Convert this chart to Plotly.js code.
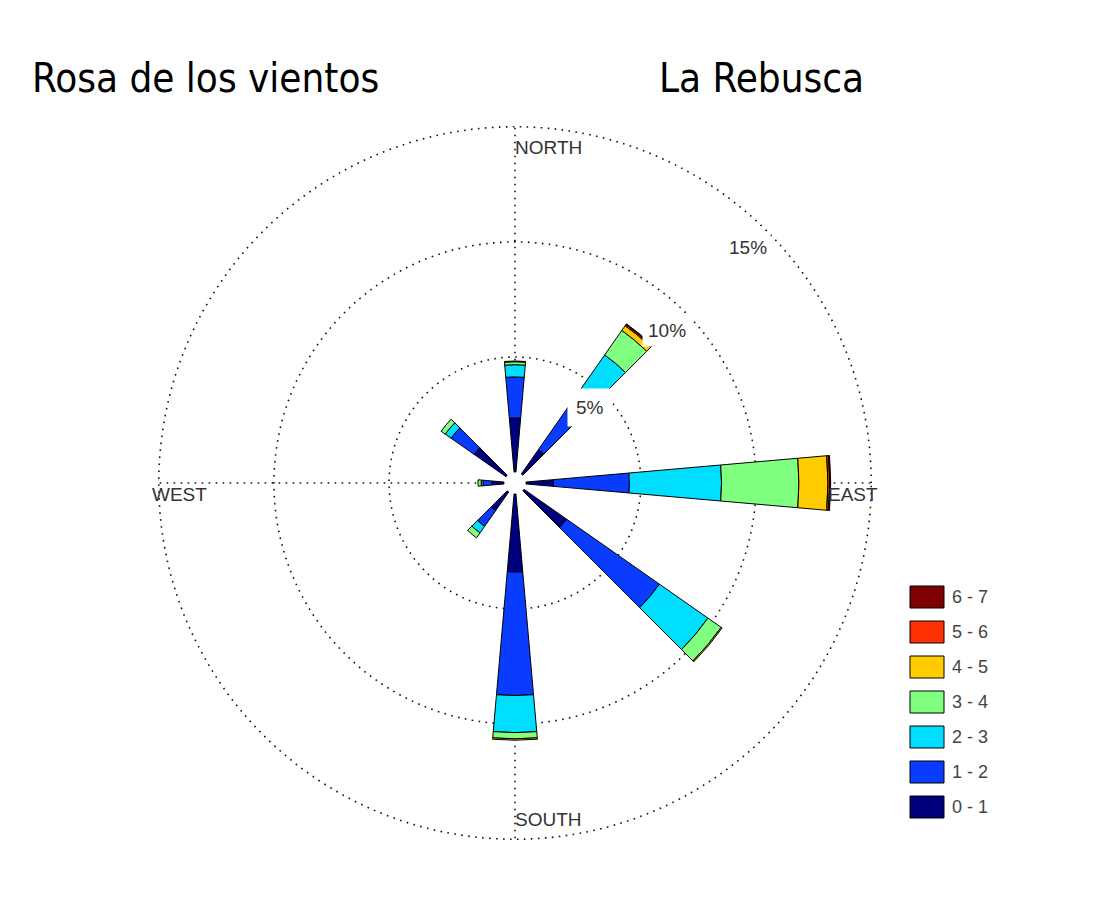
<!DOCTYPE html>
<html>
<head>
<meta charset="utf-8">
<script src="https://cdn.plot.ly/plotly-3.0.1.min.js"></script>
<style>html,body{margin:0;padding:0;background:#fff;}#chart{width:1096px;height:897px;}</style>
</head>
<body>
<div id="chart"></div>
<script>
// ---- data ----
const directions = ['N', 'NE', 'E', 'SE', 'S', 'SW', 'W', 'NW'];
const dirAngles  = [0, 40, 90, 130, 180, 220, 270, 310];
const speedBins  = ['0 - 1', '1 - 2', '2 - 3', '3 - 4', '4 - 5', '5 - 6', '6 - 7'];
const binColors  = ['#00007F', '#0A3CFF', '#00DEFF', '#80FF80', '#FFCC00', '#FF3000', '#7F0000'];
const freq_0_1 = [2.36, 1.31, 1.20, 2.27, 3.40, 1.00, 0.53, 1.70];
const freq_1_2 = [1.78, 2.79, 3.30, 4.92, 5.36, 0.83, 0.39, 1.22];
const freq_2_3 = [0.53, 2.22, 4.00, 2.57, 1.61, 0.35, 0.08, 0.31];
const freq_3_4 = [0.13, 1.30, 3.36, 0.70, 0.27, 0.26, 0.14, 0.22];
const freq_4_5 = [0.03, 0.25, 1.26, 0.05, 0.06, 0.00, 0.00, 0.00];
const freq_5_6 = [0.00, 0.06, 0.08, 0.00, 0.00, 0.00, 0.00, 0.00];
const freq_6_7 = [0.00, 0.04, 0.04, 0.00, 0.00, 0.00, 0.00, 0.00];
const ringValues = [5, 10, 15];
const ringLabels = ['5%', '10%', '15%'];
const compassLabels = ['NORTH', 'EAST', 'SOUTH', 'WEST'];
const titleLeft = 'Rosa de los vientos';
const titleRight = 'La Rebusca';

const allFreq = [freq_0_1, freq_1_2, freq_2_3, freq_3_4, freq_4_5, freq_5_6, freq_6_7];

// ---- layout helpers ----
const W = 1096, H = 897;
const px = x => x / W;
const py = y => 1 - y / H;
const CX = 515, CY = 483, R = 359;
const rMax = 15.12;

const traces = allFreq.map((vals, i) => ({
  type: 'barpolar',
  name: speedBins[i],
  r: vals,
  theta: dirAngles,
  width: 10,
  marker: { color: binColors[i], line: { color: '#000', width: 1 } },
  showlegend: false,
  hoverinfo: 'skip'
}));

const annotations = [];
const textFont = { family: 'Liberation Sans, Arial, sans-serif', size: 19, color: '#333' };
const titleFont = { family: 'DejaVu Sans Condensed, Liberation Sans, sans-serif', size: 40, color: '#000' };
// titles
annotations.push({ text: titleLeft, x: px(30), y: py(78), xref: 'paper', yref: 'paper', xanchor: 'left', yanchor: 'middle', showarrow: false, font: titleFont });
annotations.push({ text: titleRight, x: px(657), y: py(78), xref: 'paper', yref: 'paper', xanchor: 'left', yanchor: 'middle', showarrow: false, font: titleFont });
// compass labels
annotations.push({ text: compassLabels[0], x: px(513), y: py(147), xref: 'paper', yref: 'paper', xanchor: 'left', yanchor: 'middle', showarrow: false, font: textFont });
annotations.push({ text: compassLabels[1], x: px(880), y: py(494), xref: 'paper', yref: 'paper', xanchor: 'right', yanchor: 'middle', showarrow: false, font: textFont });
annotations.push({ text: compassLabels[2], x: px(513), y: py(819), xref: 'paper', yref: 'paper', xanchor: 'left', yanchor: 'middle', showarrow: false, font: textFont });
annotations.push({ text: compassLabels[3], x: px(150), y: py(494), xref: 'paper', yref: 'paper', xanchor: 'left', yanchor: 'middle', showarrow: false, font: textFont });
// ring labels (with white boxes, like the original)
const ringPos = [[590, 408, 8], [667, 330, 5], [748, 247, 3]];
ringLabels.forEach((t, i) => {
  annotations.push({ text: t, x: px(ringPos[i][0]), y: py(ringPos[i][1]), xref: 'paper', yref: 'paper', xanchor: 'center', yanchor: 'middle',
    showarrow: false, bgcolor: '#fff', borderpad: ringPos[i][2], font: textFont });
});

// legend
const shapes = [];
speedBins.forEach((lab, i) => {
  const top = 796 - 35 * i;
  shapes.push({ type: 'rect', xref: 'paper', yref: 'paper', x0: px(910), x1: px(944), y0: py(top), y1: py(top + 22),
    fillcolor: binColors[i], line: { color: '#000', width: 1 } });
  annotations.push({ text: lab, x: px(950), y: py(top + 11), xref: 'paper', yref: 'paper', xanchor: 'left', yanchor: 'middle',
    showarrow: false, font: { family: 'Liberation Sans, Arial, sans-serif', size: 18, color: '#444' } });
});

const gridStyle = { showgrid: true, gridcolor: '#111', gridwidth: 1.6, griddash: '1.6px,5.4px' };

const layout = {
  width: W, height: H,
  margin: { l: 0, r: 0, t: 0, b: 0 },
  paper_bgcolor: '#fff',
  showlegend: false,
  polar: {
    domain: { x: [px(CX - R), px(CX + R)], y: [1 - (CY + R) / H, 1 - (CY - R) / H] },
    bgcolor: 'rgba(0,0,0,0)',
    hole: 0.03,
    barmode: 'stack',
    radialaxis: Object.assign({ range: [0, rMax], tickvals: ringValues, showticklabels: false, ticks: '', showline: false }, gridStyle),
    angularaxis: Object.assign({ rotation: 90, direction: 'clockwise', tickvals: [0, 90, 180, 270], showticklabels: false, ticks: '', showline: false }, gridStyle)
  },
  annotations: annotations,
  shapes: shapes
};

Plotly.newPlot('chart', traces, layout, { displayModeBar: false, staticPlot: true });
</script>
</body>
</html>
